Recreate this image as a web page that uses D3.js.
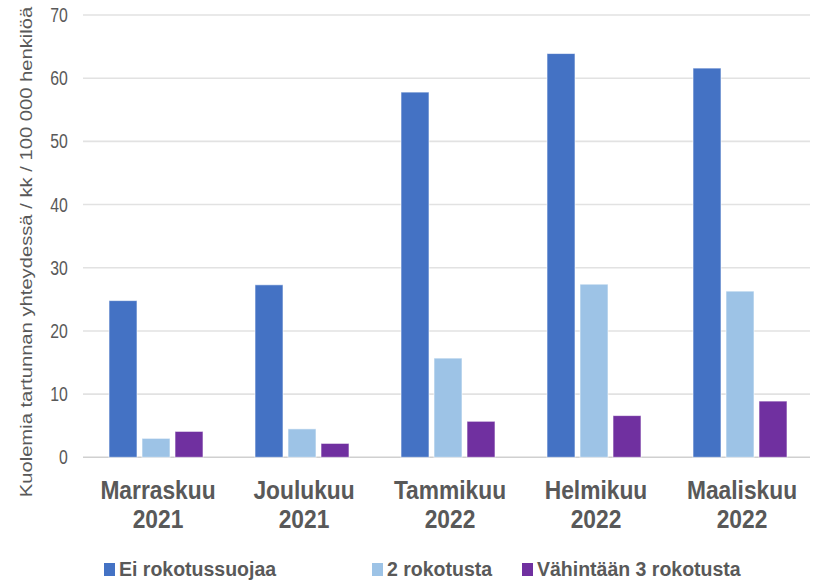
<!DOCTYPE html>
<html>
<head>
<meta charset="utf-8">
<script src="https://cdn.jsdelivr.net/npm/d3@7"></script>
<style>
  html, body { margin: 0; padding: 0; background: #fff; }
  svg { display: block; }
  text { font-family: "Liberation Sans", Arial, sans-serif; fill: #595959; }
</style>
</head>
<body>
<svg id="chart" width="817" height="580"></svg>
<script>
// Months and years shown on the category axis
const months = ["Marraskuu", "Joulukuu", "Tammikuu", "Helmikuu", "Maaliskuu"];
const years = ["2021", "2021", "2022", "2022", "2022"];

// Series (deaths per month per 100 000 people, by vaccination status)
const seriesNames = ["Ei rokotussuojaa", "2 rokotusta", "Vähintään 3 rokotusta"];
const eiRokotussuojaa = [24.8, 27.3, 57.8, 63.9, 61.6];
const kaksiRokotusta = [3.0, 4.5, 15.7, 27.4, 26.3];
const vahintaanKolme = [4.1, 2.2, 5.7, 6.6, 8.9];

const yTicks = [0, 10, 20, 30, 40, 50, 60, 70];
const yTitle = "Kuolemia tartunnan yhteydessä / kk / 100 000 henkilöä";

const colors = ["#4472C4", "#9DC3E6", "#7030A0"];
const seriesValues = [eiRokotussuojaa, kaksiRokotusta, vahintaanKolme];

const rows = months.map((m, i) => ({
  month: m,
  year: years[i],
  values: seriesNames.map((s, j) => ({ key: s, value: seriesValues[j][i], color: colors[j] }))
}));

const svg = d3.select("#chart");
const plot = { left: 83, right: 813, top: 15, bottom: 457.3 };

const x0 = d3.scaleBand().domain(months).range([plot.left, plot.right]).padding(0);
const x1 = d3.scaleBand().domain(seriesNames).range([26, 120]).paddingInner(5 / 33).paddingOuter(0);
const y = d3.scaleLinear().domain([0, 70]).range([plot.bottom, plot.top]);

// Horizontal gridlines
svg.append("g")
  .selectAll("line")
  .data(yTicks)
  .join("line")
  .attr("x1", plot.left)
  .attr("x2", plot.right - 3)
  .attr("y1", d => y(d))
  .attr("y2", d => y(d))
  .attr("stroke", d => d === 0 ? "#d0d0d0" : "#e2e2e2")
  .attr("stroke-width", 1.6);

// Y tick labels (narrow face)
svg.append("g")
  .selectAll("text")
  .data(yTicks)
  .join("text")
  .attr("transform", d => `translate(67.7,${y(d) + 7}) scale(0.81,1)`)
  .attr("text-anchor", "end")
  .attr("font-size", 19.5)
  .text(d => d);

// Y axis title
svg.append("text")
  .attr("transform", `translate(32.3,252) rotate(-90) scale(1,0.81)`)
  .attr("text-anchor", "middle")
  .attr("font-size", 20.2)
  .text(yTitle);

// Bars
const groups = svg.append("g")
  .selectAll("g")
  .data(rows)
  .join("g")
  .attr("transform", d => `translate(${x0(d.month)},0)`);

groups.selectAll("rect")
  .data(d => d.values)
  .join("rect")
  .attr("x", d => x1(d.key))
  .attr("width", x1.bandwidth())
  .attr("y", d => y(d.value))
  .attr("height", d => y(0) - y(d.value))
  .attr("fill", d => d.color)
  .attr("stroke", "#ffffff")
  .attr("stroke-opacity", 0.6)
  .attr("stroke-width", 1);

// Category labels, two lines each
const cat = svg.append("g")
  .selectAll("g")
  .data(rows)
  .join("g")
  .attr("transform", d => `translate(${x0(d.month) + x0.bandwidth() / 2 + 2},0)`);

cat.append("text")
  .attr("transform", "translate(0,499) scale(0.86,1)")
  .attr("text-anchor", "middle")
  .attr("font-size", 26.5)
  .attr("font-weight", "bold")
  .text(d => d.month);

cat.append("text")
  .attr("transform", "translate(0,527.7) scale(0.86,1)")
  .attr("text-anchor", "middle")
  .attr("font-size", 26.5)
  .attr("font-weight", "bold")
  .text(d => d.year);

// Legend
const legendX = [104, 372, 522];
const legend = svg.append("g")
  .selectAll("g")
  .data(seriesNames)
  .join("g")
  .attr("transform", (d, i) => `translate(${legendX[i]},0)`);

legend.append("rect")
  .attr("x", 0)
  .attr("y", 563)
  .attr("width", 11)
  .attr("height", 13)
  .attr("fill", (d, i) => colors[i]);

legend.append("text")
  .attr("x", 15)
  .attr("y", 576)
  .attr("font-size", 19.5)
  .attr("font-weight", "bold")
  .text(d => d);
</script>
</body>
</html>
